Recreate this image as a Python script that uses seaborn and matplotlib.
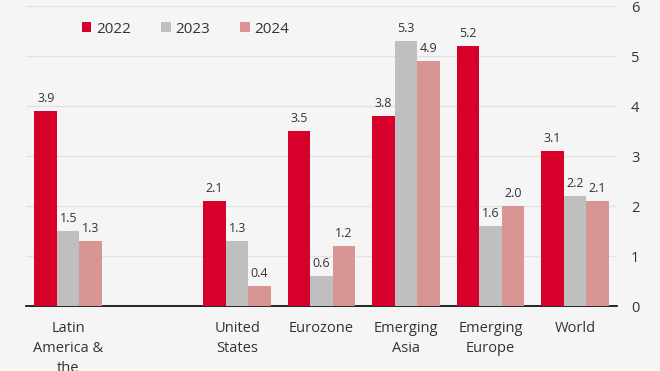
import pandas as pd
import matplotlib.pyplot as plt
import seaborn as sns

# Datos del gráfico
regions = ["Latin\nAmerica &\nthe\nCaribbean", " ", "United\nStates", "Eurozone",
           "Emerging\nAsia", "Emerging\nEurope", "World"]
years = ["2022", "2023", "2024"]
vals_2022 = [3.9, None, 2.1, 3.5, 3.8, 5.2, 3.1]
vals_2023 = [1.5, None, 1.3, 0.6, 5.3, 1.6, 2.2]
vals_2024 = [1.3, None, 0.4, 1.2, 4.9, 2.0, 2.1]
colors = ["#d7002a", "#bfbfbf", "#d99593"]

rows = []
for year, vals in zip(years, [vals_2022, vals_2023, vals_2024]):
    for reg, v in zip(regions, vals):
        if v is not None:
            rows.append({"region": reg, "year": year, "value": v})
df = pd.DataFrame(rows)

sns.set_theme(style="white")
plt.rcParams['font.family'] = ['Open Sans', 'DejaVu Sans']
bg = "#f5f5f5"

fig = plt.figure(figsize=(6.6, 3.71), dpi=100, facecolor=bg)
ax = fig.add_axes([0.0394, 0.1752, 0.8956, 0.8086], facecolor=bg)

sns.barplot(data=df, x="region", y="value", hue="year", order=regions,
            hue_order=years, palette=colors, width=0.8, saturation=1,
            errorbar=None, linewidth=0, ax=ax, zorder=3)

for cont in ax.containers:
    ax.bar_label(cont, fmt="%.1f", padding=4, fontsize=9, color="#333333")

ax.set_ylim(0, 6)
ax.set_xlim(-0.5, len(regions) - 0.5)
ax.set_yticks(range(0, 7))
ax.yaxis.tick_right()
ax.grid(axis="y", color="#e2e2e2", linewidth=1, zorder=0)
ax.set_axisbelow(True)
ax.tick_params(axis="y", length=0, pad=10, labelsize=10.5, labelcolor="#333333")
ax.tick_params(axis="x", length=0, pad=11, labelsize=10.5, labelcolor="#333333")
for lbl in ax.get_xticklabels():
    lbl.set_linespacing(1.45)
    lbl.set_verticalalignment("top")
for s in ["top", "left", "right"]:
    ax.spines[s].set_visible(False)
ax.spines["bottom"].set_color("black")
ax.spines["bottom"].set_linewidth(1.2)
ax.set_xlabel("")
ax.set_ylabel("")

ax.legend(loc="center", bbox_to_anchor=(0.27, 0.923), ncol=3, frameon=False,
          fontsize=11, handlelength=0.6, handleheight=0.6, handletextpad=0.3,
          columnspacing=2.0, labelcolor="#333333")

plt.savefig("out.png", dpi=100, facecolor=bg)
